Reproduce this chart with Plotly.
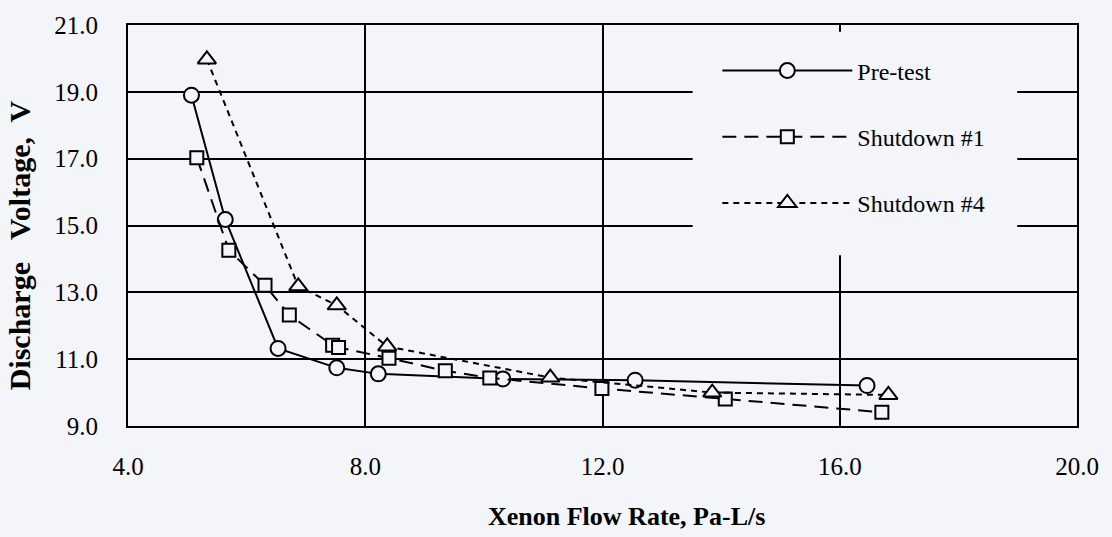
import plotly.graph_objects as go

# ---- data ----
pre_x = [5.07, 5.64, 6.53, 7.52, 8.22, 10.32, 12.55, 16.46]
pre_y = [18.90, 15.18, 11.32, 10.74, 10.56, 10.41, 10.37, 10.21]

sd1_x = [5.16, 5.70, 6.31, 6.72, 7.45, 7.55, 8.40, 9.35, 10.10, 11.99, 14.07, 16.71]
sd1_y = [17.03, 14.26, 13.21, 12.32, 11.42, 11.35, 11.03, 10.65, 10.44, 10.12, 9.81, 9.41]

sd4_x = [5.33, 6.87, 7.52, 8.37, 11.12, 13.85, 16.82]
sd4_y = [19.97, 13.18, 12.61, 11.38, 10.45, 10.00, 9.93]

series_names = ["Pre-test", "Shutdown #1", "Shutdown #4"]
x_ticks = [4, 8, 12, 16, 20]
y_ticks = [9, 11, 13, 15, 17, 19, 21]

BG = "#f3f5f8"
FONT = "Liberation Serif"

fig = go.Figure()

styles = [
    dict(x=pre_x, y=pre_y, dash="solid", symbol="circle", size=15),
    dict(x=sd1_x, y=sd1_y, dash="14px,8px", symbol="square", size=13),
    dict(x=sd4_x, y=sd4_y, dash="6px,5px", symbol="triangle-up", size=16),
]
for name, st in zip(series_names, styles):
    fig.add_trace(go.Scatter(
        x=st["x"], y=st["y"], name=name, legendgroup=name,
        mode="lines+markers",
        line=dict(color="black", width=2, dash=st["dash"]),
        marker=dict(symbol=st["symbol"], size=st["size"], color=BG,
                    line=dict(color="black", width=2)),
    ))

axis_common = dict(
    showline=True, linecolor="black", linewidth=2, mirror=True,
    showgrid=True, gridcolor="black", gridwidth=2,
    zeroline=False, ticks="", tickformat=".1f",
    tickfont=dict(family=FONT, size=25, color="black"),
)

fig.update_xaxes(range=[4, 20], tickvals=x_ticks, ticklabelstandoff=17, **axis_common)
fig.update_yaxes(range=[9, 21], tickvals=y_ticks, ticklabelstandoff=23, **axis_common)

# box hiding gridlines behind the legend (no data falls in this region)
fig.add_shape(type="rect", xref="paper", yref="paper",
              x0=0.595, x1=0.937, y0=0.426, y1=0.983,
              fillcolor=BG, line=dict(width=0), layer="above")

fig.add_annotation(text="<b>Xenon Flow Rate, Pa-L/s</b>", xref="paper", yref="paper",
                   x=0.525, y=-0.225, xanchor="center", yanchor="middle",
                   showarrow=False, font=dict(family=FONT, size=26, color="black"))
fig.add_annotation(text="<b>Discharge\u2002 Voltage,  V</b>", xref="paper", yref="paper",
                   x=-0.114, y=0.45, xanchor="center", yanchor="middle", textangle=-90,
                   showarrow=False, font=dict(family=FONT, size=30, color="black"))

fig.update_layout(
    width=1112, height=537,
    margin=dict(l=128, r=35, t=18, b=111),
    paper_bgcolor=BG, plot_bgcolor=BG,
    showlegend=True,
    legend=dict(x=0.621, y=0.721, xanchor="left", yanchor="middle",
                bgcolor="rgba(0,0,0,0)", borderwidth=0,
                itemwidth=130, traceorder="grouped", tracegroupgap=32,
                font=dict(family=FONT, size=24, color="black")),
)

fig.write_html("out.html")
